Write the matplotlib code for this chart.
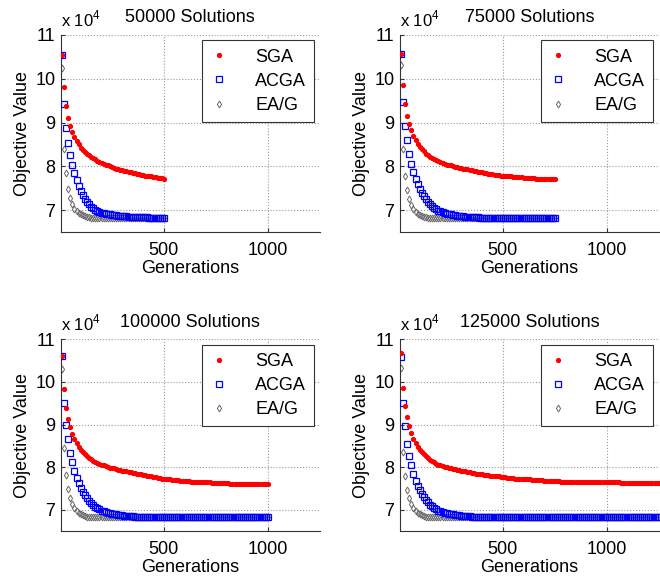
import numpy as np
import matplotlib
matplotlib.use("Agg")
from matplotlib import pyplot as plt

plt.rcParams['font.family'] = ['Liberation Sans', 'DejaVu Sans']
plt.rcParams['mathtext.fontset'] = 'custom'
plt.rcParams['mathtext.rm'] = 'Liberation Sans'

# objective values in units of 1e4, one sample every 10 generations
titles = ["50000 Solutions", "75000 Solutions", "100000 Solutions", "125000 Solutions"]
n_gens = [500, 750, 1000, 1250]
step = 10

sga_50k = [10.55, 9.82, 9.38, 9.11, 8.93, 8.79, 8.67, 8.58, 8.50, 8.42,
           8.37, 8.33, 8.29, 8.25, 8.22, 8.19, 8.16, 8.13, 8.10, 8.08,
           8.06, 8.04, 8.02, 8.00, 7.98, 7.97, 7.95, 7.94, 7.92, 7.91,
           7.90, 7.89, 7.88, 7.86, 7.85, 7.84, 7.83, 7.82, 7.81, 7.80,
           7.79, 7.78, 7.78, 7.77, 7.76, 7.75, 7.74, 7.74, 7.73, 7.72]
acga_50k = [10.54, 9.43, 8.88, 8.54, 8.25, 8.03, 7.84, 7.68, 7.55, 7.44,
            7.34, 7.26, 7.19, 7.13, 7.08, 7.04, 7.01, 6.98, 6.96, 6.94,
            6.93, 6.92, 6.91, 6.90, 6.89, 6.88, 6.88, 6.87, 6.87, 6.86,
            6.86, 6.86, 6.85, 6.85, 6.85, 6.85, 6.84, 6.84, 6.84, 6.84,
            6.84, 6.84, 6.83, 6.83, 6.83, 6.83, 6.83, 6.83, 6.83, 6.83]
eag_50k = [10.24, 8.40, 7.84, 7.49, 7.28, 7.13, 7.03, 6.97, 6.93, 6.90,
           6.88, 6.86, 6.85, 6.84, 6.83, 6.83, 6.82, 6.82, 6.82, 6.82,
           6.82, 6.82, 6.82, 6.82, 6.82, 6.82, 6.82, 6.82, 6.82, 6.82,
           6.82, 6.82, 6.82, 6.82, 6.82, 6.82, 6.82, 6.82, 6.82, 6.82,
           6.82, 6.82, 6.82, 6.82, 6.82, 6.82, 6.82, 6.82, 6.82, 6.82]

sga_75k = [10.57, 9.85, 9.43, 9.16, 8.97, 8.82, 8.70, 8.60, 8.52, 8.45,
           8.39, 8.34, 8.29, 8.25, 8.22, 8.19, 8.16, 8.14, 8.12, 8.10,
           8.08, 8.06, 8.04, 8.03, 8.02, 8.00, 7.99, 7.98, 7.97, 7.96,
           7.95, 7.94, 7.93, 7.92, 7.91, 7.90, 7.89, 7.88, 7.87, 7.86,
           7.85, 7.84, 7.83, 7.83, 7.82, 7.81, 7.80, 7.80, 7.79, 7.78,
           7.78, 7.77, 7.77, 7.77, 7.76, 7.76, 7.75, 7.75, 7.75, 7.74,
           7.74, 7.74, 7.73, 7.73, 7.73, 7.72, 7.72, 7.72, 7.71, 7.71,
           7.71, 7.71, 7.70, 7.70, 7.70]
acga_75k = [10.57, 9.47, 8.93, 8.59, 8.28, 8.05, 7.86, 7.70, 7.59, 7.49,
            7.40, 7.32, 7.25, 7.19, 7.14, 7.09, 7.05, 7.02, 6.99, 6.97,
            6.95, 6.93, 6.92, 6.91, 6.90, 6.89, 6.88, 6.87, 6.87, 6.86,
            6.86, 6.85, 6.85, 6.85, 6.84, 6.84, 6.84, 6.84, 6.83, 6.83,
            6.83, 6.83, 6.83, 6.83, 6.83, 6.83, 6.83, 6.83, 6.83, 6.83,
            6.83, 6.83, 6.83, 6.83, 6.83, 6.83, 6.83, 6.83, 6.83, 6.83,
            6.83, 6.83, 6.83, 6.83, 6.83, 6.83, 6.83, 6.83, 6.83, 6.83,
            6.83, 6.83, 6.83, 6.83, 6.83]
eag_75k = [10.31, 8.40, 7.78, 7.45, 7.26, 7.12, 7.03, 6.96, 6.92, 6.89,
           6.87, 6.85, 6.84, 6.83, 6.83, 6.82, 6.82, 6.82, 6.82, 6.82,
           6.82, 6.82, 6.82, 6.82, 6.82, 6.82, 6.82, 6.82, 6.82, 6.82,
           6.82, 6.82, 6.82, 6.82, 6.82, 6.82, 6.82, 6.82, 6.82, 6.82,
           6.82, 6.82, 6.82, 6.82, 6.82, 6.82, 6.82, 6.82, 6.82, 6.82,
           6.82, 6.82, 6.82, 6.82, 6.82, 6.82, 6.82, 6.82, 6.82, 6.82,
           6.82, 6.82, 6.82, 6.82, 6.82, 6.82, 6.82, 6.82, 6.82, 6.82,
           6.82, 6.82, 6.82, 6.82, 6.82]

sga_100k = [10.61, 9.83, 9.38, 9.13, 8.94, 8.78, 8.66, 8.56, 8.48, 8.41,
            8.35, 8.30, 8.26, 8.22, 8.18, 8.15, 8.12, 8.10, 8.08, 8.06,
            8.04, 8.02, 8.01, 7.99, 7.98, 7.97, 7.95, 7.94, 7.93, 7.92,
            7.91, 7.90, 7.89, 7.88, 7.87, 7.86, 7.85, 7.84, 7.83, 7.82,
            7.81, 7.80, 7.79, 7.78, 7.77, 7.76, 7.75, 7.74, 7.73, 7.72,
            7.72, 7.71, 7.71, 7.70, 7.70, 7.69, 7.69, 7.68, 7.68, 7.67,
            7.67, 7.67, 7.66, 7.66, 7.66, 7.65, 7.65, 7.65, 7.64, 7.64,
            7.64, 7.64, 7.63, 7.63, 7.63, 7.63, 7.62, 7.62, 7.62, 7.62,
            7.62, 7.61, 7.61, 7.61, 7.61, 7.61, 7.61, 7.60, 7.60, 7.60,
            7.60, 7.60, 7.60, 7.60, 7.60, 7.60, 7.60, 7.60, 7.60, 7.60]
acga_100k = [10.61, 9.50, 9.00, 8.65, 8.33, 8.11, 7.90, 7.74, 7.62, 7.51,
             7.42, 7.34, 7.27, 7.21, 7.16, 7.11, 7.07, 7.04, 7.01, 6.98,
             6.96, 6.94, 6.93, 6.92, 6.91, 6.90, 6.89, 6.88, 6.87, 6.87,
             6.86, 6.86, 6.85, 6.85, 6.85, 6.84, 6.84, 6.84, 6.84, 6.83,
             6.83, 6.83, 6.83, 6.83, 6.83, 6.83, 6.83, 6.83, 6.83, 6.83,
             6.83, 6.83, 6.83, 6.83, 6.83, 6.83, 6.83, 6.83, 6.83, 6.83,
             6.83, 6.83, 6.83, 6.83, 6.83, 6.83, 6.83, 6.83, 6.83, 6.83,
             6.83, 6.83, 6.83, 6.83, 6.83, 6.83, 6.83, 6.83, 6.83, 6.83,
             6.83, 6.83, 6.83, 6.83, 6.83, 6.83, 6.83, 6.83, 6.83, 6.83,
             6.83, 6.83, 6.83, 6.83, 6.83, 6.83, 6.83, 6.83, 6.83, 6.83]
eag_100k = [10.30, 8.44, 7.82, 7.48, 7.27, 7.14, 7.04, 6.97, 6.92, 6.89,
            6.87, 6.85, 6.84, 6.83, 6.83, 6.82, 6.82, 6.82, 6.82, 6.82,
            6.82, 6.82, 6.82, 6.82, 6.82, 6.82, 6.82, 6.82, 6.82, 6.82,
            6.82, 6.82, 6.82, 6.82, 6.82, 6.82, 6.82, 6.82, 6.82, 6.82,
            6.82, 6.82, 6.82, 6.82, 6.82, 6.82, 6.82, 6.82, 6.82, 6.82,
            6.82, 6.82, 6.82, 6.82, 6.82, 6.82, 6.82, 6.82, 6.82, 6.82,
            6.82, 6.82, 6.82, 6.82, 6.82, 6.82, 6.82, 6.82, 6.82, 6.82,
            6.82, 6.82, 6.82, 6.82, 6.82, 6.82, 6.82, 6.82, 6.82, 6.82,
            6.82, 6.82, 6.82, 6.82, 6.82, 6.82, 6.82, 6.82, 6.82, 6.82,
            6.82, 6.82, 6.82, 6.82, 6.82, 6.82, 6.82, 6.82, 6.82, 6.82]

sga_125k = [10.67, 9.86, 9.43, 9.17, 8.96, 8.79, 8.66, 8.56, 8.48, 8.41,
            8.35, 8.30, 8.25, 8.21, 8.17, 8.14, 8.11, 8.08, 8.06, 8.04,
            8.02, 8.01, 8.00, 7.98, 7.97, 7.96, 7.95, 7.94, 7.93, 7.92,
            7.91, 7.90, 7.89, 7.88, 7.87, 7.86, 7.85, 7.85, 7.84, 7.83,
            7.82, 7.82, 7.81, 7.80, 7.80, 7.79, 7.78, 7.78, 7.77, 7.76,
            7.76, 7.75, 7.75, 7.74, 7.74, 7.73, 7.73, 7.72, 7.72, 7.72,
            7.71, 7.71, 7.71, 7.70, 7.70, 7.70, 7.69, 7.69, 7.69, 7.68,
            7.68, 7.68, 7.68, 7.67, 7.67, 7.67, 7.67, 7.66, 7.66, 7.66,
            7.66, 7.66, 7.65, 7.65, 7.65, 7.65, 7.65, 7.65, 7.65, 7.65,
            7.65, 7.65, 7.65, 7.65, 7.64, 7.64, 7.64, 7.64, 7.64, 7.64,
            7.64, 7.64, 7.64, 7.64, 7.64, 7.64, 7.63, 7.63, 7.63, 7.63,
            7.63, 7.63, 7.63, 7.63, 7.63, 7.63, 7.63, 7.63, 7.63, 7.63,
            7.63, 7.63, 7.63, 7.63, 7.63]
acga_125k = [10.59, 9.51, 8.96, 8.55, 8.27, 8.04, 7.83, 7.68, 7.56, 7.46,
             7.37, 7.29, 7.23, 7.17, 7.12, 7.08, 7.04, 7.01, 6.98, 6.96,
             6.94, 6.93, 6.92, 6.91, 6.90, 6.89, 6.88, 6.87, 6.87, 6.86,
             6.86, 6.85, 6.85, 6.85, 6.84, 6.84, 6.84, 6.84, 6.83, 6.83,
             6.83, 6.83, 6.83, 6.83, 6.83, 6.83, 6.83, 6.83, 6.83, 6.83,
             6.83, 6.83, 6.83, 6.83, 6.83, 6.83, 6.83, 6.83, 6.83, 6.83,
             6.83, 6.83, 6.83, 6.83, 6.83, 6.83, 6.83, 6.83, 6.83, 6.83,
             6.83, 6.83, 6.83, 6.83, 6.83, 6.83, 6.83, 6.83, 6.83, 6.83,
             6.83, 6.83, 6.83, 6.83, 6.83, 6.83, 6.83, 6.83, 6.83, 6.83,
             6.83, 6.83, 6.83, 6.83, 6.83, 6.83, 6.83, 6.83, 6.83, 6.83,
             6.83, 6.83, 6.83, 6.83, 6.83, 6.83, 6.83, 6.83, 6.83, 6.83,
             6.83, 6.83, 6.83, 6.83, 6.83, 6.83, 6.83, 6.83, 6.83, 6.83,
             6.83, 6.83, 6.83, 6.83, 6.83]
eag_125k = [10.32, 8.35, 7.79, 7.46, 7.27, 7.13, 7.03, 6.96, 6.92, 6.89,
            6.87, 6.85, 6.84, 6.83, 6.83, 6.82, 6.82, 6.82, 6.82, 6.82,
            6.82, 6.82, 6.82, 6.82, 6.82, 6.82, 6.82, 6.82, 6.82, 6.82,
            6.82, 6.82, 6.82, 6.82, 6.82, 6.82, 6.82, 6.82, 6.82, 6.82,
            6.82, 6.82, 6.82, 6.82, 6.82, 6.82, 6.82, 6.82, 6.82, 6.82,
            6.82, 6.82, 6.82, 6.82, 6.82, 6.82, 6.82, 6.82, 6.82, 6.82,
            6.82, 6.82, 6.82, 6.82, 6.82, 6.82, 6.82, 6.82, 6.82, 6.82,
            6.82, 6.82, 6.82, 6.82, 6.82, 6.82, 6.82, 6.82, 6.82, 6.82,
            6.82, 6.82, 6.82, 6.82, 6.82, 6.82, 6.82, 6.82, 6.82, 6.82,
            6.82, 6.82, 6.82, 6.82, 6.82, 6.82, 6.82, 6.82, 6.82, 6.82,
            6.82, 6.82, 6.82, 6.82, 6.82, 6.82, 6.82, 6.82, 6.82, 6.82,
            6.82, 6.82, 6.82, 6.82, 6.82, 6.82, 6.82, 6.82, 6.82, 6.82,
            6.82, 6.82, 6.82, 6.82, 6.82]

sga_all = [sga_50k, sga_75k, sga_100k, sga_125k]
acga_all = [acga_50k, acga_75k, acga_100k, acga_125k]
eag_all = [eag_50k, eag_75k, eag_100k, eag_125k]

fig = plt.figure(figsize=(6.6, 5.79), dpi=100)
boxes = [[0.0924, 0.5993, 0.392, 0.3403],
         [0.606, 0.5993, 0.392, 0.3403],
         [0.0924, 0.0829, 0.392, 0.331],
         [0.606, 0.0829, 0.392, 0.331]]

fs = 13
for i in range(4):
    ax = fig.add_axes(boxes[i])
    gens = np.arange(step, n_gens[i] + 1, step)
    # red dots on top, like the original
    ax.plot(gens, sga_all[i], '.', color='red', ms=5.5, label='SGA', zorder=4)
    ax.plot(gens, acga_all[i], 's', mfc='none', mec='blue', ms=4.5, mew=0.9, label='ACGA', zorder=3)
    ax.plot(gens, eag_all[i], 'd', mfc='none', mec='#666666', ms=3.5, mew=0.7, label='EA/G', zorder=2)

    ax.set_xlim(5, 1250)
    ax.set_ylim(6.5, 11)
    ax.set_xticks([500, 1000])
    ax.set_yticks([7, 8, 9, 10, 11])
    ax.grid(True, ls=':', color='#999999', lw=0.8)
    ax.spines['top'].set_visible(False)
    ax.spines['right'].set_visible(False)
    ax.spines['left'].set_color('#333333')
    ax.spines['bottom'].set_color('#333333')
    ax.tick_params(direction='in', length=3, labelsize=fs, pad=4, color='#333333')
    ax.tick_params(axis='x', pad=7)
    ax.set_xlabel('Generations', fontsize=fs, labelpad=1)
    ax.set_ylabel('Objective Value', fontsize=fs, labelpad=3)
    ax.set_title(titles[i], fontsize=fs, pad=9)
    ax.text(0.0, 1.03, r'x 10$^\mathrm{4}$', transform=ax.transAxes,
            ha='left', va='bottom', fontsize=12)

    leg = ax.legend(loc='upper right', fontsize=fs, fancybox=False, edgecolor='#333333',
                    framealpha=1, borderaxespad=0.3, handlelength=1.0, handletextpad=1.5,
                    labelspacing=0.4, borderpad=0.45)
    leg.get_frame().set_linewidth(0.8)

plt.savefig('out.png', dpi=100)
